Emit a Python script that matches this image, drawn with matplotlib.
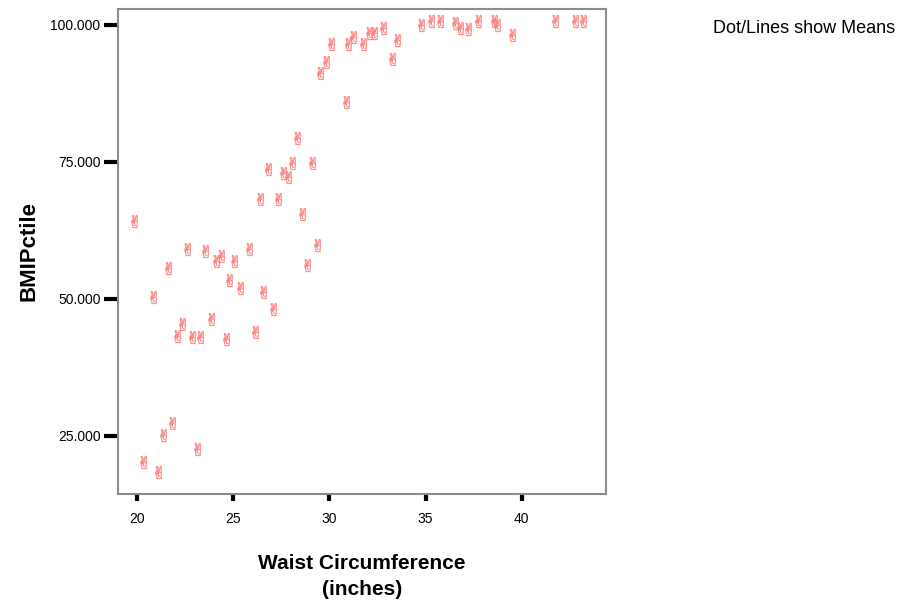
import matplotlib.pyplot as plt
import numpy as np

# waist circumference (inches) vs BMI percentile
waist = [19.86, 20.33, 20.84, 21.10, 21.36, 21.62, 21.83, 22.09, 22.35, 22.61,
         22.87, 23.12, 23.28, 23.54, 23.85, 24.11, 24.37, 24.63, 24.78, 25.04,
         25.35, 25.82, 26.13, 26.39, 26.54, 26.80, 27.06, 27.32, 27.58, 27.84,
         28.05, 28.31, 28.57, 28.83, 29.09, 29.34, 29.50, 29.81, 30.07, 30.85,
         31.00, 31.26, 31.78, 32.04, 32.30, 32.77, 33.28, 33.54, 34.78, 35.30,
         35.77, 36.54, 36.80, 37.22, 37.73, 38.56, 38.72, 39.50, 41.73, 42.77,
         43.18]
bmi_pctile = [64.2, 20.3, 50.4, 18.4, 25.2, 55.7, 27.4, 43.2, 45.4, 59.1,
              43.1, 22.6, 43.1, 58.8, 46.4, 56.9, 57.8, 42.7, 53.5, 56.9,
              52.0, 59.1, 44.0, 68.2, 51.3, 73.7, 48.2, 68.2, 73.0, 72.3,
              74.8, 79.4, 65.5, 56.2, 74.8, 59.9, 91.2, 93.2, 96.5, 85.9,
              96.5, 97.8, 96.5, 98.5, 98.5, 99.5, 93.8, 97.3, 100.0, 100.7,
              100.7, 100.4, 99.5, 99.3, 100.7, 100.7, 100.0, 98.2, 100.7, 100.7,
              100.7]

xticks = [20, 25, 30, 35, 40]
yticks = [25, 50, 75, 100]

plt.rcParams['font.family'] = ['Liberation Sans', 'DejaVu Sans']

fig = plt.figure(figsize=(9.08, 6.05), dpi=100)
ax = fig.add_axes([0.1305, 0.1835, 0.5369, 0.8021])

ax.scatter(waist, bmi_pctile, marker='$\u270C$', s=85, color='#ff7f7f',
           edgecolors='#ff7f7f', linewidths=0.3, zorder=3)

ax.set_xlim(19.06, 44.37)
ax.set_ylim(14.4, 102.97)
ax.set_xticks(xticks)
ax.set_yticks(yticks)
ax.set_xticklabels([str(t) for t in xticks])
ax.set_yticklabels([f'{t:.3f}' for t in yticks])
ax.tick_params(axis='y', length=10, width=3, color='black', labelsize=10, pad=3)
ax.tick_params(axis='x', length=5, width=3, color='black', labelsize=10, pad=8)

for sp in ax.spines.values():
    sp.set_color('#8c8c8c')
    sp.set_linewidth(1.5)

ax.set_ylabel('BMIPctile', fontsize=16, fontweight='bold', labelpad=8)
ax.set_xlabel('Waist Circumference\n(inches)', fontsize=15, fontweight='bold',
              labelpad=20, linespacing=1.45)

fig.text(0.785, 0.953, 'Dot/Lines show Means', fontsize=13, ha='left', va='center')

fig.savefig('out.png', dpi=100)
